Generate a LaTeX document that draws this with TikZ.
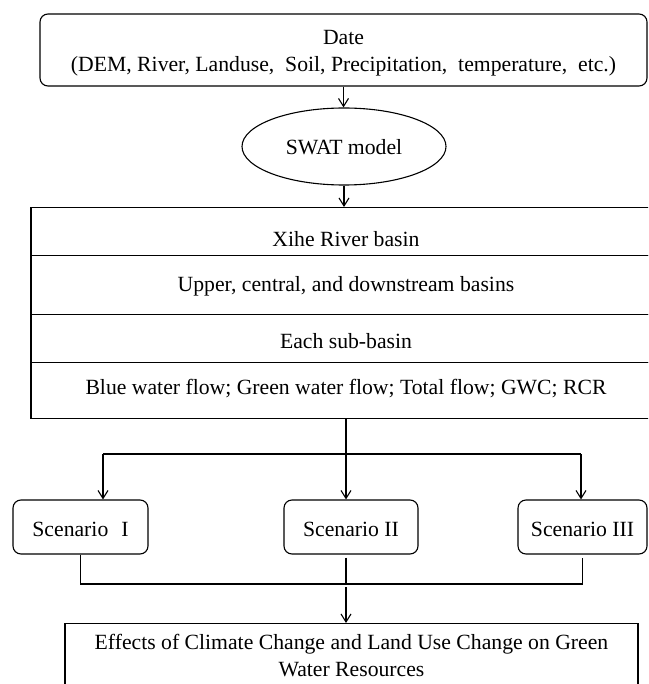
\documentclass[tikz,border=0pt]{standalone}
\usepackage{fontspec}
\setmainfont{Liberation Serif}
\usetikzlibrary{arrows.meta,shapes.geometric}
\begin{document}
\begin{tikzpicture}[x=1pt,y=-1pt,
  txt/.style={font=\fontsize{21.7}{27}\selectfont},
  box/.style={draw, line width=1.1pt, inner sep=0pt, txt},
  rbox/.style={box, rounded corners=8pt},
  rowbox/.style={box, anchor=north, minimum width=630pt, text depth=0pt},
  ln/.style={line width=1.1pt},
  arr/.style={ln, -{Straight Barb[length=8pt,width=10pt]}}
]
\useasboundingbox (0,0) rectangle (648,684);
\clip (0,0) rectangle (648,684);

\node[rbox, minimum width=607pt, minimum height=72pt, align=center, text height=44pt, text depth=0pt] (data) at (343.5,50) {Date\\(DEM, River, Landuse,\ \ Soil, Precipitation,\ \ temperature,\ \ etc.)};
\node[box, ellipse, minimum width=204pt, minimum height=77pt, text height=17pt, text depth=0pt] (swat) at (344,146.5) {SWAT model};

\node[rowbox, minimum height=48pt, text height=30pt] (r1) at (346,207) {Xihe River basin};
\node[rowbox, minimum height=59pt, text height=13pt] (r2) at (346,255) {Upper, central, and downstream basins};
\node[rowbox, minimum height=48pt, text height=20pt] (r3) at (346,314) {Each sub-basin};
\node[rowbox, minimum height=56pt, text height=8pt] (r4) at (346,362) {Blue water flow; Green water flow; Total flow; GWC; RCR};

\node[rbox, minimum width=135pt, minimum height=54pt, text height=18pt, text depth=0pt] (s1) at (80.5,527) {Scenario\hspace{13pt}I};
\node[rbox, minimum width=134pt, minimum height=54pt, text height=18pt, text depth=0pt] (s2) at (351,527) {Scenario II};
\node[rbox, minimum width=129pt, minimum height=54pt, text height=18pt, text depth=0pt] (s3) at (582.5,527) {Scenario III};

\node[box, anchor=north, minimum width=573pt, minimum height=120pt] (res) at (351.5,623) {};
\node[txt, align=center, anchor=base] (restxt) at (351.5,676) {Effects of Climate Change and Land Use Change on Green\\Water Resources};

\draw[arr] (data.south) -- (data.south |- swat.north);
\draw[arr] (swat.south) -- (swat.south |- r1.north);

\coordinate (j) at (346,454);
\coordinate (jl) at (103,454);
\coordinate (jr) at (581,454);
\draw[ln] (r4.south) -- (j);
\draw[ln] (jl) -- (jr);
\draw[arr] (jl) -- (jl |- s1.north);
\draw[arr] (j) -- (j |- s2.north);
\draw[arr] (jr) -- (jr |- s3.north);

\coordinate (k) at (346,584);
\draw[ln] (s1.south) |- (k -| s3.south) -- ([yshift=-3pt]s3.south);
\draw[ln] ([yshift=-3pt]s2.south -| k) -- (k);
\draw[arr] ([yshift=-3pt]k) -- (k |- res.north);
\end{tikzpicture}
\end{document}
